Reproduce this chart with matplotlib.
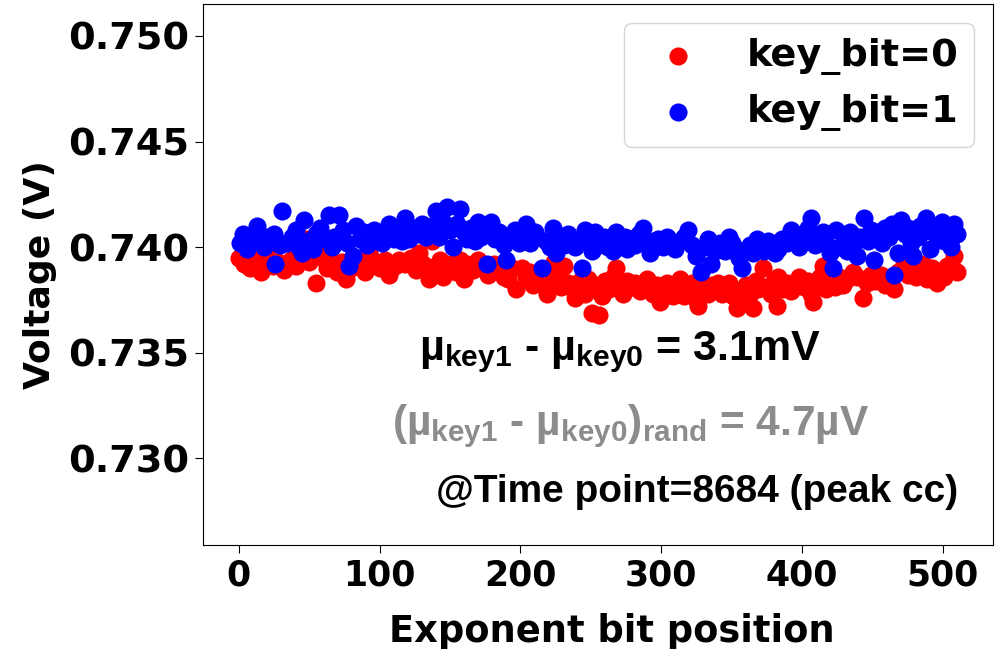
import numpy as np
import matplotlib
matplotlib.use("Agg")
import matplotlib.pyplot as plt

# bits with key_bit = 0
x0 = [0, 4, 8, 12, 16, 20, 24, 28, 32, 37, 41, 45, 48, 50, 53, 55, 56, 60, 63, 67,
      70, 73, 76, 80, 84, 87, 90, 93, 97, 100, 104, 107, 111, 114, 118, 122, 126, 128, 131, 135,
      137, 140, 143, 145, 148, 150, 154, 157, 160, 162, 166, 170, 173, 177, 181, 185, 188, 191, 194, 197,
      201, 204, 207, 209, 213, 216, 219, 222, 224, 227, 229, 231, 234, 237, 239, 242, 246, 248, 251, 253,
      256, 258, 260, 263, 266, 268, 271, 273, 276, 279, 281, 285, 288, 290, 294, 297, 299, 302, 304, 308,
      311, 313, 316, 319, 322, 324, 326, 330, 333, 336, 340, 343, 346, 348, 351, 354, 357, 360, 362, 365,
      367, 369, 372, 375, 378, 380, 382, 383, 386, 389, 392, 395, 398, 401, 404, 406, 408, 411, 413, 415,
      417, 420, 423, 426, 429, 432, 436, 439, 443, 446, 449, 452, 456, 459, 462, 465, 468, 472, 475, 478,
      481, 484, 486, 489, 492, 496, 499, 501, 503, 506, 508, 510]
v0 = [0.7395, 0.7392, 0.7390, 0.7394, 0.7388, 0.7396, 0.7391, 0.7393, 0.7389, 0.7394, 0.7391, 0.7397, 0.7404, 0.7393, 0.7399, 0.7383, 0.7401, 0.7395, 0.7390, 0.7393,
      0.7388, 0.7393, 0.7385, 0.7390, 0.7394, 0.7391, 0.7388, 0.7396, 0.7392, 0.7390, 0.7394, 0.7387, 0.7391, 0.7394, 0.7392, 0.7395, 0.7389, 0.7397, 0.7392, 0.7385,
      0.7403, 0.7391, 0.7394, 0.7386, 0.7390, 0.7392, 0.7388, 0.7394, 0.7385, 0.7392, 0.7389, 0.7394, 0.7390, 0.7387, 0.7392, 0.7389, 0.7386, 0.7385, 0.7390, 0.7380,
      0.7390, 0.7386, 0.7388, 0.7382, 0.7386, 0.7384, 0.7378, 0.7387, 0.7393, 0.7384, 0.7381, 0.7391, 0.7383, 0.7380, 0.7376, 0.7384, 0.7378, 0.7385, 0.7369, 0.7382,
      0.7368, 0.7377, 0.7384, 0.7380, 0.7386, 0.7390, 0.7382, 0.7378, 0.7384, 0.7381, 0.7383, 0.7379, 0.7381, 0.7385, 0.7378, 0.7382, 0.7374, 0.7380, 0.7383, 0.7377,
      0.7381, 0.7385, 0.7377, 0.7380, 0.7383, 0.7376, 0.7372, 0.7381, 0.7378, 0.7382, 0.7383, 0.7378, 0.7380, 0.7383, 0.7377, 0.7371, 0.7379, 0.7382, 0.7377, 0.7371,
      0.7384, 0.7380, 0.7390, 0.7381, 0.7378, 0.7384, 0.7372, 0.7386, 0.7380, 0.7383, 0.7379, 0.7383, 0.7386, 0.7381, 0.7384, 0.7378, 0.7374, 0.7382, 0.7386, 0.7391,
      0.7380, 0.7384, 0.7381, 0.7386, 0.7382, 0.7385, 0.7388, 0.7386, 0.7376, 0.7383, 0.7387, 0.7384, 0.7387, 0.7382, 0.7385, 0.7380, 0.7388, 0.7392, 0.7387, 0.7390,
      0.7386, 0.7389, 0.7392, 0.7385, 0.7390, 0.7383, 0.7388, 0.7386, 0.7391, 0.7392, 0.7396, 0.7388]

# bits with key_bit = 1
x1 = [1, 3, 6, 9, 13, 15, 18, 21, 25, 26, 29, 31, 34, 38, 41, 43, 45, 46, 49, 53,
      55, 58, 61, 64, 66, 68, 71, 74, 77, 78, 81, 83, 86, 89, 91, 94, 96, 99, 102, 105,
      107, 110, 113, 116, 118, 121, 124, 127, 130, 133, 137, 140, 142, 145, 148, 150, 152, 155, 157, 160,
      162, 165, 168, 170, 172, 174, 176, 179, 182, 185, 188, 190, 193, 196, 199, 202, 204, 207, 210, 212,
      215, 218, 221, 223, 225, 228, 231, 234, 236, 239, 242, 244, 246, 249, 251, 253, 256, 259, 262, 264,
      266, 268, 271, 274, 276, 278, 281, 284, 287, 289, 292, 295, 298, 301, 304, 307, 310, 313, 316, 319,
      322, 325, 328, 330, 333, 335, 338, 340, 342, 345, 348, 350, 353, 355, 357, 360, 363, 365, 368, 371,
      373, 376, 379, 381, 383, 386, 389, 392, 395, 398, 400, 402, 404, 406, 409, 411, 413, 415, 418, 420,
      422, 424, 427, 430, 432, 434, 437, 439, 441, 444, 447, 449, 451, 454, 457, 459, 462, 464, 465, 468,
      470, 473, 475, 477, 479, 482, 484, 486, 488, 491, 493, 496, 499, 501, 504, 506, 508, 510]
v1 = [0.7402, 0.7406, 0.7399, 0.7404, 0.7410, 0.7403, 0.7400, 0.7405, 0.7406, 0.7392, 0.7401, 0.7417, 0.7402, 0.7405, 0.7408, 0.7400, 0.7397, 0.7413, 0.7403, 0.7399,
      0.7406, 0.7409, 0.7404, 0.7415, 0.7400, 0.7405, 0.7415, 0.7408, 0.7402, 0.7391, 0.7396, 0.7410, 0.7404, 0.7407, 0.7401, 0.7405, 0.7408, 0.7403, 0.7402, 0.7406,
      0.7411, 0.7404, 0.7408, 0.7403, 0.7414, 0.7404, 0.7409, 0.7406, 0.7411, 0.7405, 0.7410, 0.7417, 0.7405, 0.7412, 0.7419, 0.7408, 0.7400, 0.7411, 0.7418, 0.7407,
      0.7404, 0.7409, 0.7403, 0.7412, 0.7405, 0.7408, 0.7392, 0.7412, 0.7404, 0.7407, 0.7401, 0.7394, 0.7405, 0.7408, 0.7402, 0.7406, 0.7411, 0.7402, 0.7407, 0.7405,
      0.7390, 0.7403, 0.7400, 0.7409, 0.7397, 0.7404, 0.7401, 0.7406, 0.7404, 0.7400, 0.7403, 0.7390, 0.7408, 0.7402, 0.7398, 0.7407, 0.7401, 0.7405, 0.7400, 0.7403,
      0.7398, 0.7407, 0.7402, 0.7405, 0.7399, 0.7404, 0.7401, 0.7406, 0.7409, 0.7402, 0.7397, 0.7403, 0.7404, 0.7400, 0.7405, 0.7402, 0.7399, 0.7403, 0.7405, 0.7408,
      0.7401, 0.7396, 0.7388, 0.7400, 0.7404, 0.7392, 0.7398, 0.7400, 0.7402, 0.7398, 0.7405, 0.7402, 0.7399, 0.7395, 0.7390, 0.7398, 0.7401, 0.7397, 0.7404, 0.7400,
      0.7398, 0.7403, 0.7401, 0.7397, 0.7399, 0.7404, 0.7402, 0.7408, 0.7403, 0.7400, 0.7406, 0.7404, 0.7409, 0.7414, 0.7401, 0.7405, 0.7403, 0.7407, 0.7401, 0.7397,
      0.7390, 0.7408, 0.7400, 0.7403, 0.7398, 0.7407, 0.7402, 0.7396, 0.7405, 0.7414, 0.7403, 0.7408, 0.7394, 0.7407, 0.7402, 0.7409, 0.7405, 0.7411, 0.7387, 0.7397,
      0.7413, 0.7406, 0.7409, 0.7402, 0.7396, 0.7405, 0.7410, 0.7407, 0.7414, 0.7399, 0.7408, 0.7405, 0.7412, 0.7403, 0.7409, 0.7400, 0.7411, 0.7406]

plt.rcParams['mathtext.fontset'] = 'custom'
plt.rcParams['mathtext.rm'] = 'Liberation Sans:bold'
plt.rcParams['mathtext.it'] = 'Liberation Sans:bold'
plt.rcParams['mathtext.bf'] = 'Liberation Sans:bold'

fig = plt.figure(figsize=(10.04, 6.49), dpi=100)
ax = fig.add_axes([0.202, 0.160, 0.787, 0.834])

ax.scatter(x0, v0, s=170, c='red', linewidths=0, label='key_bit=0')
ax.scatter(x1, v1, s=170, c='blue', linewidths=0, label='key_bit=1')

ax.set_ylim(0.72588, 0.75152)
ax.set_yticks([0.730, 0.735, 0.740, 0.745, 0.750])
ax.set_xticks([0, 100, 200, 300, 400, 500])
ax.tick_params(length=6)
ax.tick_params(axis='x', labelsize=25)
ax.tick_params(axis='y', labelsize=27.5)
for lab in ax.get_xticklabels() + ax.get_yticklabels():
    lab.set_fontweight('bold')
ax.set_xlabel('Exponent bit position', fontsize=26.5, fontweight='bold')
ax.xaxis.set_label_coords(0.518, -0.125)
ax.set_ylabel('Voltage (V)', fontsize=26, fontweight='bold', labelpad=8)

ax.legend(loc='upper right', prop={'size': 27.5, 'weight': 'bold'})

tf = dict(family='Liberation Sans', fontweight='bold', ha='center', va='center')
ax.text(271, 0.7350, 'µ$_{key1}$ - µ$_{key0}$ = 3.1mV', fontsize=31, color='black', **tf)
ax.text(278, 0.7315, '(µ$_{key1}$ - µ$_{key0}$)$_{rand}$ = 4.7µV', fontsize=30.5, color='#8c8c8c', **tf)
ax.text(511, 0.7284, '@Time point=8684 (peak cc)', fontsize=28, color='black',
        family='Liberation Sans', fontweight='bold', ha='right', va='center')

plt.savefig('out.png', dpi=100)
